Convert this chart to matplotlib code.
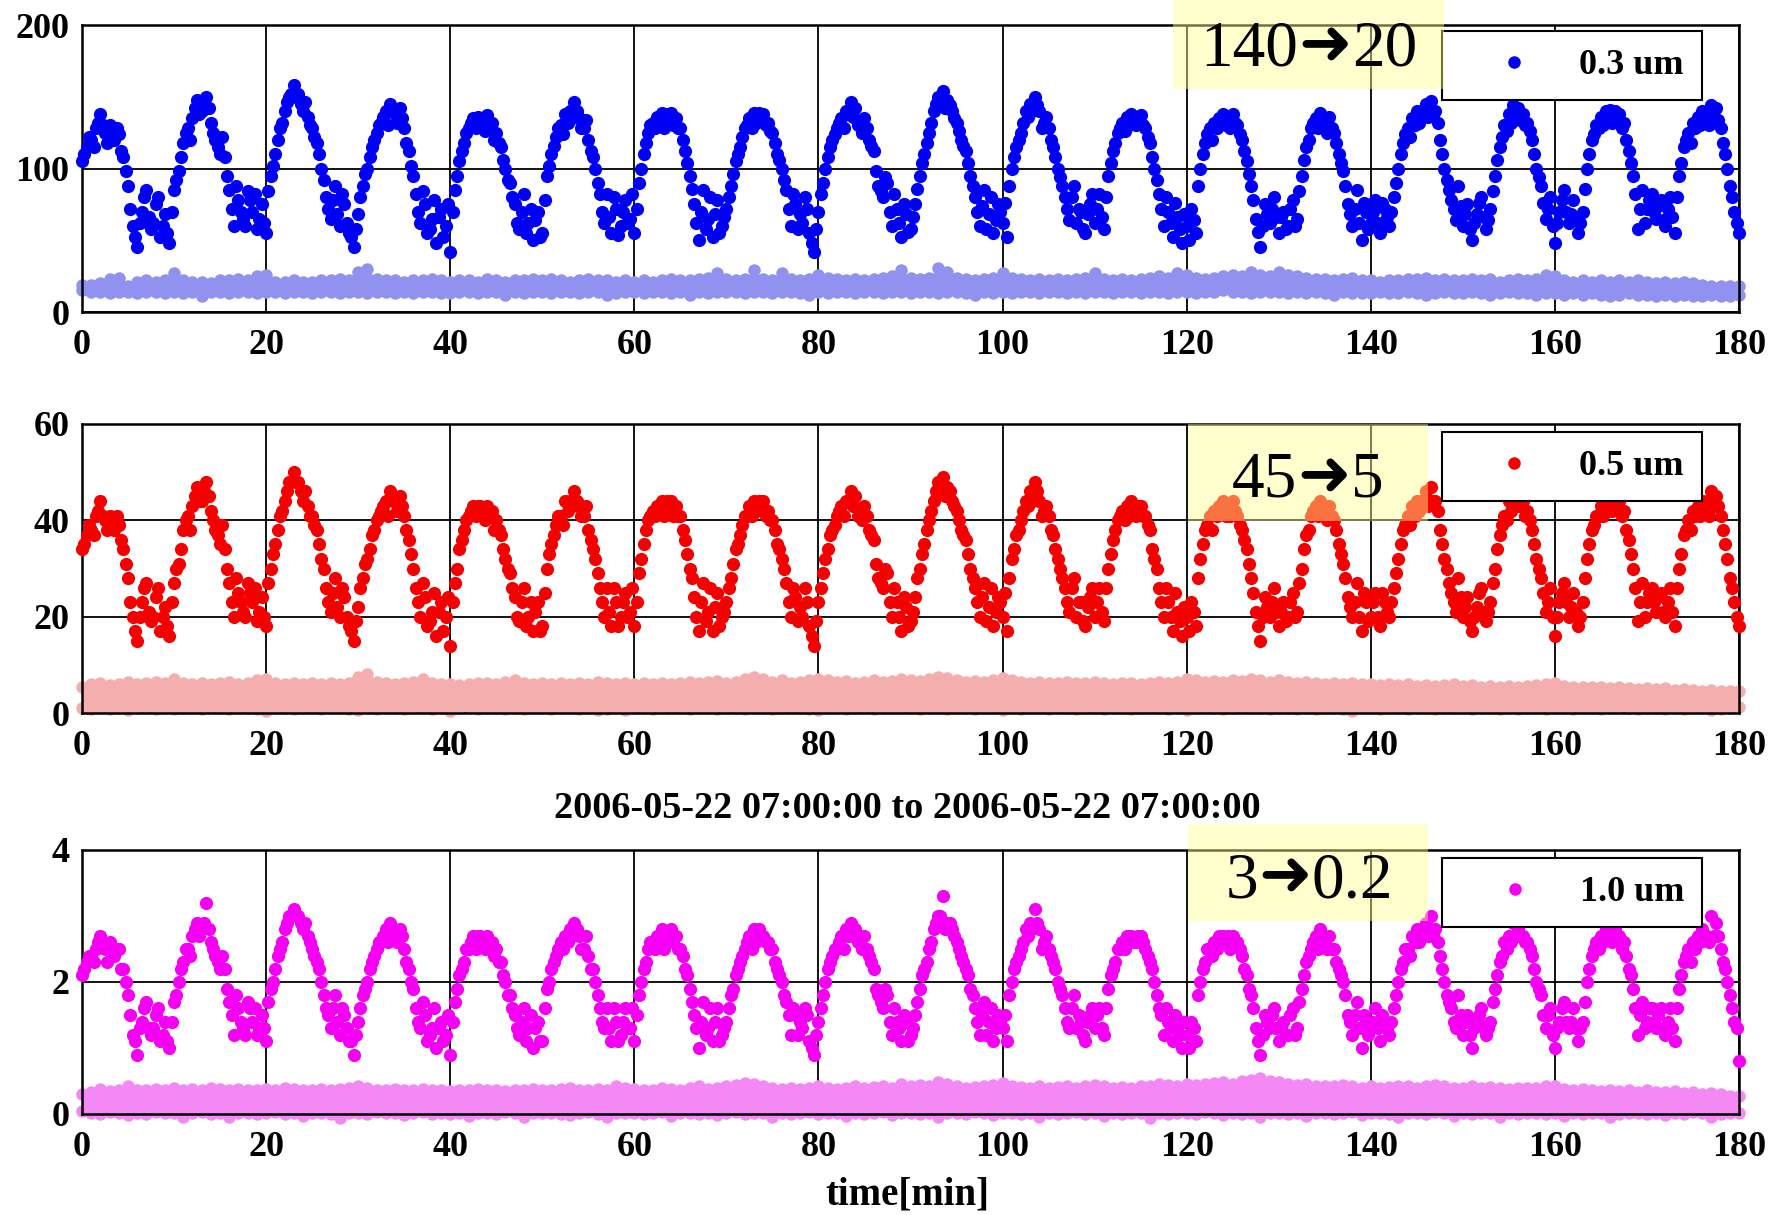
import numpy as np
import matplotlib
matplotlib.use("Agg")
import matplotlib.pyplot as plt
from matplotlib.lines import Line2D
from matplotlib.patches import Rectangle

# ---- data ----
# main series, one value every 0.5 min (0 .. 180)
blue_03 = [
    105,115,120,128,138,125,130,120,124,108,88,60,45,70,85,58,75,52,68,48,
    85,98,118,128,135,148,140,150,132,120,110,108,85,60,78,65,84,70,58,75,
    55,95,110,128,140,150,158,152,140,136,128,118,100,80,65,88,60,75,55,45,
    68,88,100,115,125,132,140,145,138,142,128,112,95,70,84,55,65,48,72,60,
    42,85,105,118,128,135,136,130,137,132,125,115,100,90,75,58,82,62,50,70,
    55,95,110,122,130,138,140,146,135,128,120,108,90,70,82,55,72,60,78,65,
    55,90,110,125,132,136,139,138,139,135,128,112,95,75,50,85,65,52,78,60,
    72,88,105,115,128,135,139,139,138,132,125,110,100,85,60,75,68,80,55,42,
    70,90,108,120,128,135,140,146,142,130,135,120,112,88,80,90,60,72,52,68,
    58,75,95,110,125,140,150,154,148,140,132,120,112,95,80,60,85,68,55,75,
    62,52,100,115,125,140,145,150,140,132,128,115,100,88,72,80,62,70,55,75,
    62,82,58,95,112,125,132,136,138,130,137,128,118,100,82,60,70,52,66,48,
    60,72,55,100,118,128,132,135,138,136,138,130,120,105,88,65,45,75,62,80,
    55,70,60,78,65,95,115,128,135,139,130,136,125,110,98,75,60,85,50,70,
    62,78,55,72,60,80,100,118,128,135,140,138,145,147,140,120,100,85,72,88,
    60,75,50,68,80,58,72,95,115,130,138,144,142,138,132,120,100,88,65,80,
    48,70,85,62,78,55,70,100,120,130,136,140,141,140,138,132,112,95,58,85,
    72,82,65,78,60,80,55,95,115,125,132,136,140,138,144,142,128,110,88,70,
    55]
# the points in between (0.25, 0.75, .. 179.75 min)
blue_03_mid = [
    110,122,115,132,130,118,126,128,112,98,72,52,62,80,66,62,80,60,55,70,
    92,108,125,120,142,138,145,142,125,115,122,95,72,88,70,60,78,82,65,62,
    84,102,120,132,146,152,150,145,146,130,122,110,92,72,78,68,82,62,52,58,
    80,96,108,120,130,136,130,140,132,135,118,102,82,62,75,58,78,66,52,75,
    70,95,112,125,132,128,134,126,130,120,118,106,92,80,62,70,55,72,64,52,
    78,102,116,128,124,132,135,140,128,134,112,100,82,62,66,80,54,70,62,82,
    72,100,118,130,128,132,128,134,130,128,120,104,86,62,70,58,80,68,55,66,
    80,96,110,122,130,128,132,134,130,126,118,106,92,72,82,58,62,72,48,58,
    82,100,115,124,132,128,138,136,130,125,128,116,98,84,94,70,82,62,75,56,
    66,86,104,118,132,145,148,142,144,135,126,116,104,88,70,74,58,80,64,70,
    76,88,108,120,132,136,140,144,128,136,120,108,94,80,64,88,72,58,68,82,
    72,66,80,104,118,128,126,130,132,134,130,122,108,92,72,80,62,76,58,68,
    50,64,88,110,124,120,128,132,130,128,132,124,112,96,78,56,60,68,72,66,
    66,58,72,60,84,106,120,132,128,134,125,128,118,104,88,68,72,62,76,58,
    70,62,76,66,70,90,110,124,122,130,132,140,136,138,132,110,92,78,64,74,
    68,58,62,76,66,64,84,106,122,126,132,136,134,130,126,110,94,76,72,60,
    62,78,70,68,64,62,86,110,124,128,130,134,132,135,128,120,104,82,72,62,
    78,70,74,64,72,66,80,104,120,118,128,130,134,130,136,134,118,100,80,62]

red_05 = [
    34,37,38,41,44,40,41,38,39,34,28,20,15,23,27,19,24,17,22,16,
    27,31,38,41,43,47,44,48,42,38,35,34,27,20,25,21,27,23,19,24,
    18,30,35,41,44,48,50,48,44,43,41,38,32,26,21,28,20,24,18,15,
    22,28,32,37,40,42,44,46,44,45,41,36,30,23,27,18,21,16,23,20,
    14,27,34,38,41,43,43,41,43,42,40,37,32,29,24,19,26,20,17,23,
    18,30,35,39,41,44,44,46,43,41,38,34,29,23,26,18,23,20,25,21,
    18,29,35,40,42,43,44,44,44,43,41,36,30,24,17,27,21,17,25,20,
    23,28,34,37,41,43,44,44,44,42,40,35,32,27,20,24,22,26,18,14,
    23,29,34,38,41,43,44,46,45,41,43,38,36,28,26,29,20,23,17,22,
    19,24,30,35,40,44,48,49,47,44,42,38,36,30,26,20,27,22,18,24,
    20,17,32,37,40,44,46,48,44,42,41,37,32,28,23,26,20,23,18,24,
    20,26,19,30,36,40,42,43,44,41,43,41,38,32,26,20,23,17,21,16,
    20,23,18,32,38,41,42,43,44,43,44,41,38,34,28,21,15,24,20,26,
    18,23,20,25,21,30,37,41,43,44,41,43,40,35,31,24,20,27,17,23,
    20,25,18,23,20,26,32,38,41,43,44,44,46,47,44,38,32,27,23,28,
    20,24,17,22,26,19,23,30,37,41,44,46,45,44,42,38,32,28,21,26,
    16,23,27,20,25,18,23,32,38,41,43,44,45,44,44,42,36,30,19,27,
    23,26,21,25,20,26,18,30,37,40,42,43,44,44,46,45,41,35,28,23,
    18]
red_05_mid = [
    35,39,37,42,41,38,40,41,36,31,23,17,20,26,21,20,26,20,18,23,
    30,34,40,38,45,44,46,45,40,37,39,30,23,28,23,20,25,26,21,20,
    27,33,38,42,46,48,48,46,46,41,39,35,30,23,25,22,26,20,17,19,
    26,31,34,38,41,43,41,44,42,43,38,33,26,20,24,19,25,21,17,24,
    23,30,36,40,42,41,43,40,41,38,38,34,30,26,20,23,18,23,21,17,
    25,33,37,41,39,42,43,44,41,43,36,32,26,20,21,26,18,23,20,26,
    23,32,38,41,41,42,41,43,41,41,38,33,28,20,23,19,26,22,18,21,
    26,31,35,39,41,41,42,43,41,40,38,34,30,23,26,19,20,23,16,19,
    26,32,37,39,42,41,44,43,41,40,41,37,31,27,30,23,26,20,24,18,
    21,28,33,38,42,46,47,45,46,43,40,37,33,28,23,24,19,26,21,23,
    25,28,34,38,42,43,44,46,41,43,38,34,30,26,21,28,23,19,22,26,
    23,21,26,33,38,41,40,41,42,43,41,39,34,30,23,26,20,25,19,22,
    17,21,28,35,39,38,41,42,41,41,42,39,36,31,25,18,20,22,23,21,
    21,19,23,20,27,34,38,42,41,43,40,41,38,33,28,22,23,20,25,19,
    23,20,25,21,23,29,35,39,39,41,42,44,43,44,42,35,30,25,21,24,
    22,19,20,25,21,21,27,34,39,40,42,43,43,41,40,35,30,25,23,20,
    20,25,23,22,21,20,28,35,39,41,41,43,42,43,41,38,33,26,23,20,
    25,23,24,21,23,21,26,33,38,38,41,41,43,41,43,43,38,32,26,20]

mag_10 = [
    2.1,2.3,2.4,2.5,2.7,2.5,2.6,2.4,2.5,2.2,1.8,1.2,0.9,1.4,1.7,1.2,1.5,1.1,1.4,1.0,
    1.7,2.0,2.3,2.5,2.7,2.9,2.8,3.2,2.6,2.4,2.2,2.2,1.7,1.2,1.6,1.3,1.7,1.4,1.2,1.5,
    1.1,1.9,2.2,2.5,2.8,3.0,3.1,3.0,2.8,2.7,2.5,2.3,2.0,1.6,1.3,1.8,1.2,1.5,1.1,0.9,
    1.4,1.8,2.0,2.3,2.5,2.6,2.8,2.9,2.7,2.8,2.5,2.2,1.9,1.4,1.7,1.1,1.3,1.0,1.4,1.2,
    0.9,1.7,2.1,2.3,2.5,2.7,2.7,2.6,2.7,2.6,2.5,2.3,2.0,1.8,1.5,1.2,1.6,1.3,1.0,1.4,
    1.1,1.9,2.2,2.4,2.6,2.7,2.8,2.9,2.7,2.5,2.4,2.2,1.8,1.4,1.6,1.1,1.4,1.2,1.6,1.3,
    1.1,1.8,2.2,2.5,2.6,2.7,2.8,2.7,2.8,2.7,2.5,2.2,1.9,1.5,1.0,1.7,1.3,1.1,1.6,1.2,
    1.4,1.8,2.1,2.3,2.5,2.7,2.8,2.8,2.7,2.6,2.5,2.2,2.0,1.7,1.2,1.5,1.4,1.6,1.1,0.9,
    1.4,1.8,2.2,2.4,2.5,2.7,2.8,2.9,2.8,2.6,2.7,2.4,2.2,1.8,1.6,1.8,1.2,1.4,1.1,1.4,
    1.2,1.5,1.9,2.2,2.5,2.8,3.0,3.3,2.9,2.8,2.6,2.4,2.2,1.9,1.6,1.2,1.7,1.4,1.1,1.5,
    1.3,1.1,2.0,2.3,2.5,2.8,2.9,3.1,2.8,2.6,2.5,2.3,2.0,1.8,1.4,1.6,1.3,1.4,1.1,1.5,
    1.3,1.6,1.2,1.9,2.2,2.5,2.6,2.7,2.7,2.6,2.7,2.5,2.3,2.0,1.6,1.2,1.4,1.1,1.3,1.0,
    1.2,1.4,1.1,2.0,2.3,2.5,2.6,2.7,2.7,2.7,2.7,2.6,2.4,2.1,1.8,1.3,0.9,1.5,1.3,1.6,
    1.1,1.4,1.2,1.6,1.3,1.9,2.3,2.5,2.7,2.8,2.6,2.7,2.5,2.2,2.0,1.5,1.2,1.7,1.0,1.4,
    1.3,1.6,1.1,1.4,1.2,1.6,2.0,2.3,2.5,2.7,2.8,2.7,2.9,3.0,2.8,2.4,2.0,1.7,1.4,1.8,
    1.2,1.5,1.0,1.4,1.6,1.2,1.4,1.9,2.3,2.6,2.7,2.9,2.8,2.7,2.6,2.4,2.0,1.8,1.3,1.6,
    1.0,1.4,1.7,1.3,1.6,1.1,1.4,2.0,2.4,2.6,2.7,2.8,3.0,2.8,2.7,2.6,2.2,1.9,1.2,1.7,
    1.4,1.6,1.3,1.6,1.2,1.6,1.1,1.9,2.3,2.5,2.6,2.7,2.8,2.7,3.0,2.9,2.5,2.2,1.8,1.4,
    0.8]
mag_10_mid = [
    2.2,2.4,2.3,2.6,2.6,2.3,2.5,2.5,2.2,2.0,1.5,1.1,1.3,1.6,1.3,1.3,1.6,1.2,1.1,1.4,
    1.8,2.2,2.5,2.4,2.8,2.7,2.9,2.8,2.5,2.3,2.4,1.9,1.5,1.8,1.4,1.2,1.6,1.6,1.3,1.3,
    1.7,2.0,2.4,2.6,2.9,3.0,3.0,2.9,2.9,2.6,2.4,2.2,1.8,1.5,1.6,1.4,1.6,1.3,1.1,1.2,
    1.6,1.9,2.2,2.4,2.6,2.7,2.6,2.8,2.6,2.7,2.3,2.0,1.6,1.3,1.5,1.2,1.6,1.3,1.1,1.5,
    1.4,1.9,2.2,2.5,2.6,2.5,2.7,2.5,2.6,2.4,2.3,2.1,1.8,1.6,1.3,1.4,1.1,1.5,1.3,1.1,
    1.6,2.0,2.3,2.5,2.5,2.6,2.7,2.8,2.5,2.7,2.2,2.0,1.6,1.3,1.3,1.6,1.1,1.4,1.3,1.6,
    1.5,2.0,2.3,2.6,2.5,2.6,2.5,2.7,2.6,2.5,2.4,2.1,1.7,1.3,1.4,1.2,1.6,1.4,1.1,1.3,
    1.6,1.9,2.2,2.4,2.6,2.5,2.6,2.7,2.6,2.5,2.3,2.1,1.8,1.5,1.6,1.2,1.3,1.5,1.0,1.2,
    1.6,2.0,2.3,2.5,2.6,2.5,2.7,2.7,2.6,2.5,2.5,2.3,1.9,1.7,1.9,1.4,1.6,1.3,1.5,1.1,
    1.3,1.7,2.1,2.3,2.6,2.9,3.0,2.8,2.9,2.7,2.5,2.3,2.1,1.8,1.4,1.5,1.2,1.6,1.3,1.4,
    1.5,1.8,2.2,2.4,2.6,2.7,2.8,2.9,2.5,2.7,2.4,2.2,1.9,1.6,1.3,1.8,1.5,1.2,1.4,1.6,
    1.5,1.3,1.6,2.1,2.3,2.5,2.5,2.6,2.6,2.7,2.6,2.4,2.2,1.8,1.5,1.6,1.3,1.5,1.2,1.4,
    1.0,1.3,1.8,2.2,2.5,2.4,2.5,2.6,2.6,2.5,2.6,2.5,2.2,1.9,1.6,1.1,1.2,1.4,1.5,1.3,
    1.3,1.2,1.5,1.2,1.7,2.1,2.4,2.6,2.5,2.7,2.5,2.5,2.3,2.1,1.8,1.4,1.5,1.3,1.5,1.2,
    1.4,1.3,1.5,1.3,1.4,1.8,2.2,2.5,2.4,2.6,2.6,2.8,2.7,2.7,2.6,2.2,1.8,1.6,1.3,1.5,
    1.4,1.2,1.3,1.5,1.3,1.3,1.7,2.1,2.4,2.5,2.6,2.7,2.7,2.6,2.5,2.2,1.9,1.5,1.5,1.2,
    1.3,1.6,1.4,1.4,1.3,1.3,1.7,2.2,2.5,2.5,2.6,2.7,2.6,2.7,2.5,2.4,2.1,1.6,1.5,1.3,
    1.6,1.4,1.5,1.3,1.4,1.3,1.6,2.1,2.4,2.3,2.5,2.6,2.7,2.6,2.7,2.7,2.3,2.0,1.6,1.3]

# lower size channel (the pale band), upper / lower edge every 1 min
blue_bg_hi = [
    19,19,20,23,24,18,21,22,21,22, 27,22,21,21,20,22,22,23,22,25,
    26,21,21,22,21,21,22,22,23,22, 28,30,23,22,22,21,22,22,23,22,
    21,22,22,21,23,22,21,22,22,23, 22,23,22,21,22,23,22,22,21,22,
    21,22,21,22,23,22,22,23,24,27, 23,22,23,29,23,22,27,23,22,23,
    26,24,23,22,23,22,23,24,25,29, 24,23,24,31,28,24,23,22,23,24,
    27,24,23,22,23,22,23,22,23,24, 27,23,22,23,22,23,24,25,24,27,
    26,24,23,24,25,26,25,28,26,25, 28,26,25,24,23,23,22,23,24,22,
    22,21,22,22,23,23,24,22,23,22, 22,23,22,23,21,22,23,22,23,26,
    25,22,21,22,21,22,21,22,21,22, 21,20,21,20,21,20,19,18,18,18,
    18]
blue_bg_lo = [
    15,14,14,13,14,14,13,14,14,13, 14,13,14,11,14,14,13,14,14,13,
    14,14,13,14,14,13,14,14,13,14, 14,13,14,14,13,14,13,14,14,13,
    13,14,14,13,14,14,12,14,13,14, 14,13,14,14,13,14,14,12,13,14,
    14,13,14,14,13,14,12,14,13,14, 14,14,13,14,14,13,14,14,13,12,
    14,13,14,14,13,14,14,13,14,14, 13,14,14,13,14,14,13,12,14,13,
    14,13,14,14,13,14,14,13,14,13, 14,14,13,14,14,13,14,14,13,14,
    14,13,14,14,15,14,14,13,14,14, 14,13,14,13,14,13,12,14,13,13,
    13,14,13,13,14,13,12,13,14,13, 13,14,13,12,13,14,13,13,12,13,
    13,12,13,12,13,12,11,12,13,12, 12,11,12,11,12,11,11,12,11,11,
    12]

red_bg_hi = [
    5.5,6.0,6.2,5.8,6.0,6.5,6.0,6.2,6.5,6.3, 7.0,6.2,6.0,6.3,6.0,6.2,6.5,6.0,6.3,6.8,
    7.0,6.3,6.0,6.2,6.0,6.2,6.0,6.3,6.0,6.2, 7.5,8.2,6.5,6.2,6.0,6.3,6.5,7.0,6.2,6.0,
    6.0,5.8,6.0,6.2,6.3,6.0,6.5,6.8,6.2,6.0, 6.2,6.0,6.3,6.0,6.2,6.0,6.5,6.3,6.0,6.2,
    6.0,6.3,6.0,6.2,6.0,6.3,6.5,6.2,6.4,6.6, 6.3,6.5,7.0,7.5,7.0,6.5,6.8,6.3,6.5,6.8,
    7.0,6.8,6.5,6.6,6.3,6.5,6.8,6.5,6.6,7.0, 6.8,6.6,7.0,7.5,7.2,6.8,6.5,6.6,6.5,6.8,
    7.2,6.8,6.5,6.3,6.5,6.2,6.3,6.5,6.3,6.2, 6.5,6.3,6.0,6.2,6.3,6.0,6.2,6.5,6.3,6.5,
    7.0,6.8,6.5,6.7,6.5,6.8,6.6,7.0,6.8,6.5, 6.8,6.5,6.3,6.5,6.2,6.0,6.3,6.0,6.2,6.0,
    6.0,5.8,6.0,5.8,6.0,5.7,5.8,5.6,5.8,6.0, 5.6,5.8,5.5,5.7,5.5,5.7,5.4,5.6,5.8,6.0,
    6.2,5.6,5.4,5.5,5.3,5.5,5.2,5.4,5.2,5.0, 5.2,5.0,5.2,4.8,5.0,4.8,4.6,4.8,4.5,4.6,
    4.5]
red_bg_lo = [
    1.0,0.8,1.2,0.9,1.1,0.7,1.0,1.2,0.9,1.0, 0.8,1.1,1.0,0.9,1.2,1.0,0.8,1.1,1.0,0.9,
    0.5,1.0,1.1,0.9,1.0,1.2,0.8,1.0,1.1,0.9, 0.6,1.0,0.9,1.1,1.0,0.8,1.0,1.1,0.9,1.0,
    0.4,1.0,1.2,0.9,1.0,1.1,0.8,1.0,0.9,1.1, 1.0,0.9,1.1,1.0,0.8,1.0,0.7,0.9,1.0,0.6,
    1.0,1.1,0.9,1.0,1.2,1.0,0.9,1.1,1.0,0.9, 1.1,1.0,0.8,1.0,1.1,0.9,1.0,1.2,1.0,0.9,
    0.7,1.0,1.1,0.9,1.0,1.2,0.9,1.0,1.1,1.0, 1.0,0.9,1.1,1.0,0.8,1.0,1.1,0.9,1.0,1.1,
    0.6,1.0,0.9,1.1,1.0,0.9,1.2,1.0,0.9,1.1, 1.0,0.8,1.0,1.1,0.9,1.0,1.2,1.0,0.9,1.0,
    0.7,1.0,1.2,1.0,0.9,1.1,1.2,1.0,1.1,0.9, 1.0,1.1,0.9,1.0,0.8,1.0,1.1,0.9,0.5,1.0,
    1.0,0.9,1.1,1.0,0.8,1.0,1.1,0.9,1.0,1.1, 1.0,0.9,1.0,1.1,0.8,1.0,0.9,1.1,1.0,0.9,
    1.0,1.1,0.9,1.0,1.1,0.9,1.0,1.2,1.0,0.9, 1.0,1.1,0.9,1.0,0.8,1.0,1.1,0.7,0.9,1.0,
    1.2]

mag_bg_hi = [
    0.30,0.33,0.38,0.35,0.36,0.42,0.37,0.36,0.38,0.36, 0.40,0.37,0.38,0.36,0.40,0.38,0.36,0.38,0.37,0.36,
    0.38,0.36,0.40,0.38,0.36,0.37,0.38,0.36,0.38,0.40, 0.42,0.40,0.37,0.36,0.38,0.36,0.37,0.38,0.36,0.37,
    0.35,0.37,0.36,0.38,0.36,0.37,0.35,0.37,0.36,0.38, 0.36,0.37,0.38,0.40,0.37,0.36,0.38,0.37,0.42,0.40,
    0.38,0.36,0.37,0.40,0.38,0.37,0.40,0.42,0.38,0.40, 0.42,0.44,0.47,0.45,0.42,0.40,0.38,0.40,0.38,0.40,
    0.42,0.40,0.38,0.40,0.42,0.40,0.41,0.42,0.40,0.45, 0.42,0.44,0.42,0.48,0.45,0.42,0.40,0.41,0.42,0.44,
    0.47,0.43,0.41,0.40,0.42,0.40,0.41,0.43,0.40,0.42, 0.44,0.42,0.40,0.41,0.40,0.42,0.43,0.45,0.44,0.42,
    0.46,0.44,0.45,0.47,0.48,0.46,0.50,0.52,0.55,0.50, 0.48,0.46,0.44,0.45,0.42,0.43,0.42,0.44,0.42,0.40,
    0.42,0.40,0.41,0.43,0.42,0.40,0.42,0.44,0.42,0.40, 0.40,0.42,0.40,0.41,0.40,0.38,0.40,0.39,0.40,0.43,
    0.42,0.38,0.36,0.38,0.36,0.35,0.37,0.35,0.36,0.34, 0.36,0.34,0.33,0.35,0.32,0.34,0.30,0.32,0.30,0.28,
    0.28]
mag_bg_lo = [
    0.05,0.02,0.00,0.03,0.01,-0.02,0.02,0.00,0.03,0.01, 0.02,-0.04,0.01,0.03,0.00,0.02,-0.05,0.01,0.02,0.00,
    0.01,0.03,0.00,0.02,-0.03,0.01,0.02,0.00,-0.06,0.02, 0.01,0.00,0.03,0.01,0.02,-0.02,0.01,0.03,0.00,0.02,
    0.00,0.02,-0.03,0.01,0.02,0.00,0.03,0.01,-0.04,0.02, 0.01,0.02,0.00,-0.02,0.01,0.03,0.00,-0.05,0.02,0.01,
    0.02,0.00,0.01,0.03,-0.03,0.02,0.01,0.00,0.02,-0.02, 0.01,0.03,0.00,0.02,0.01,-0.04,0.02,0.00,0.01,0.03,
    0.00,0.02,0.01,-0.03,0.02,0.00,0.01,0.03,-0.02,0.01, 0.02,0.00,0.01,-0.05,0.02,0.01,0.00,0.03,0.01,-0.02,
    0.01,0.02,0.00,0.01,-0.04,0.02,0.00,0.01,0.03,0.00, 0.02,-0.03,0.01,0.00,0.02,0.01,-0.06,0.02,0.00,0.01,
    0.02,0.00,0.03,0.01,-0.02,0.02,0.00,0.01,-0.05,0.02, 0.01,0.00,0.02,-0.03,0.01,0.02,0.00,0.01,0.03,-0.02,
    0.01,0.02,0.00,-0.04,0.01,0.02,0.00,0.03,0.01,-0.03, 0.02,0.00,0.01,0.02,-0.05,0.01,0.00,0.02,0.01,0.00,
    0.02,-0.03,0.01,0.00,0.02,0.01,-0.04,0.00,0.02,0.01, 0.00,0.02,-0.02,0.01,0.00,0.03,0.01,-0.05,0.00,0.02,
    0.01]

t_main = np.linspace(0, 180, len(blue_03))
t_mid = t_main[:-1] + 0.25
t_bg = np.linspace(0, 180, len(blue_bg_hi))

labels = ["0.3 um", "0.5 um", "1.0 um"]
ylims = [200, 60, 4]
yticks = [[0, 100, 200], [0, 20, 40, 60], [0, 2, 4]]
# the yellow notes: "from -> to"
notes = [("140", "20"), ("45", "5"), ("3", "0.2")]

# ---- figure ----
W, H = 1784, 1215
fig = plt.figure(figsize=(W / 100, H / 100), dpi=100)
serif = ["Liberation Serif", "DejaVu Serif"]
fs = 26
ms = 9.5
ms_bg = 9


def fx(px):
    return px / W


def fy(py):
    return 1 - py / H


# axes boxes in pixels (top, bottom)
boxes = [(25, 312), (424, 713), (850, 1114)]
legend_tops = [31, 432, 858]
notes_box = [(1173, 0, 1444, 89), (1188, 424, 1428, 521), (1188, 824, 1428, 921)]
notes_base = [66, 497, 897]
arrow_x = [1325, 1324, 1285]

series = [
    (blue_03, blue_03_mid, blue_bg_lo, blue_bg_hi, "#0000f5", "#9191f0"),
    (red_05, red_05_mid, red_bg_lo, red_bg_hi, "#f50000", "#f5aeae"),
    (mag_10, mag_10_mid, mag_bg_lo, mag_bg_hi, "#f500f5", "#f488f4"),
]

for i, (main, mid, lo, hi, col, light) in enumerate(series):
    top, bot = boxes[i]
    ax = fig.add_axes([fx(82), fy(bot), fx(1739) - fx(82), (bot - top) / H])

    ax.fill_between(t_bg, lo, hi, color=light, lw=0, zorder=2, clip_on=False)
    ax.plot(t_bg, lo, "o", color=light, ms=ms_bg, mew=0, zorder=2, clip_on=False)
    ax.plot(t_bg, hi, "o", color=light, ms=ms_bg, mew=0, zorder=2, clip_on=False)
    ax.plot(t_main, main, "o", color=col, ms=ms, mew=0, zorder=3, clip_on=False)
    ax.plot(t_mid, mid, "o", color=col, ms=ms, mew=0, zorder=3, clip_on=False)

    ax.set_xlim(0, 180)
    ax.set_ylim(0, ylims[i])
    ax.set_xticks(range(0, 181, 20))
    ax.set_yticks(yticks[i])
    ax.set_axisbelow(True)
    ax.grid(True, color="black", linewidth=1.3)
    for sp in ax.spines.values():
        sp.set_linewidth(1.8)
    ax.tick_params(length=0, labelsize=fs)
    ax.tick_params(axis="x", pad=12)
    ax.tick_params(axis="y", pad=9)
    for lab in ax.get_xticklabels() + ax.get_yticklabels():
        lab.set_family(serif)
        lab.set_fontweight("bold")

    h = Line2D([], [], marker="o", ls="none", color=col, ms=9, mew=0)
    leg = ax.legend([h], [labels[i]], loc="upper right",
                    bbox_to_anchor=(fx(1702), fy(legend_tops[i])),
                    bbox_transform=fig.transFigure, borderaxespad=0,
                    prop={"family": serif, "weight": "bold", "size": fs},
                    handlelength=3.0, handletextpad=0.3, borderpad=0.5,
                    fancybox=False, framealpha=1, edgecolor="black")
    leg.get_frame().set_linewidth(1.5)

    x0, y0, x1, y1 = notes_box[i]
    fig.patches.append(Rectangle((fx(x0), fy(y1)), (x1 - x0) / W, (y1 - y0) / H,
                                 transform=fig.transFigure, facecolor="#ffff90",
                                 alpha=0.45, lw=0, zorder=5))
    a, b = notes[i]
    ax_ = arrow_x[i]
    fig.text(fx(ax_ - 27), fy(notes_base[i]), a, ha="right", va="baseline",
             family=serif, fontsize=47, zorder=6)
    fig.text(fx(ax_), fy(notes_base[i] - 2), "\u279c", ha="center", va="baseline",
             family=["DejaVu Sans"], fontsize=46, zorder=6)
    fig.text(fx(ax_ + 27), fy(notes_base[i]), b, ha="left", va="baseline",
             family=serif, fontsize=47, zorder=6)

fig.text(fx(907), fy(809), "2006-05-22 07:00:00 to 2006-05-22 07:00:00",
         ha="center", va="center", family=serif, fontweight="bold", fontsize=27.5)
fig.text(fx(907), fy(1195), "time[min]", ha="center", va="center",
         family=serif, fontweight="bold", fontsize=28)

fig.savefig("out.png", dpi=100)
